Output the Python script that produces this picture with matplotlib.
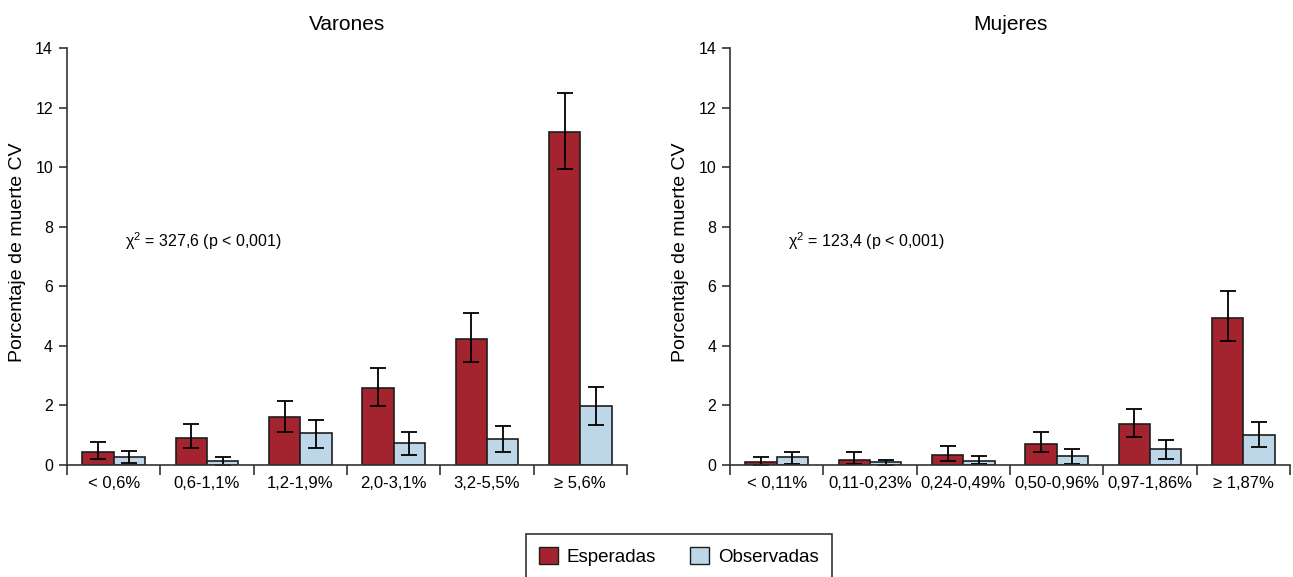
#!/usr/bin/env python
# -*- coding: utf-8 -*-
"""
Porcentaje de muerte CV esperada vs observada, por sexo
"""
# =========================================================================== #
#  SECTION: Imports
# =========================================================================== #
import matplotlib
matplotlib.use('Agg')
import matplotlib.pyplot as plt
import matplotlib.patches as mpatches
import numpy as np

# =========================================================================== #
#  SECTION: Data
# =========================================================================== #
varones_categorias = ['< 0,6%', '0,6-1,1%', '1,2-1,9%', '2,0-3,1%',
                      '3,2-5,5%', '≥ 5,6%']
varones_esperadas = [0.43, 0.92, 1.60, 2.60, 4.24, 11.17]
varones_esp_inf = [0.20, 0.56, 1.10, 1.97, 3.46, 9.93]
varones_esp_sup = [0.76, 1.39, 2.16, 3.27, 5.12, 12.48]
varones_observadas = [0.26, 0.13, 1.06, 0.73, 0.88, 1.99]
varones_obs_inf = [0.06, 0.01, 0.57, 0.35, 0.44, 1.33]
varones_obs_sup = [0.46, 0.27, 1.52, 1.11, 1.30, 2.63]
varones_chi = 'χ$^2$ = 327,6 (p < 0,001)'

mujeres_categorias = ['< 0,11%', '0,11-0,23%', '0,24-0,49%', '0,50-0,96%',
                      '0,97-1,86%', '≥ 1,87%']
mujeres_esperadas = [0.09, 0.18, 0.35, 0.70, 1.38, 4.94]
mujeres_esp_inf = [0.00, 0.03, 0.14, 0.43, 0.93, 4.15]
mujeres_esp_sup = [0.27, 0.44, 0.64, 1.10, 1.87, 5.83]
mujeres_observadas = [0.26, 0.09, 0.15, 0.29, 0.53, 1.00]
mujeres_obs_inf = [0.03, 0.01, 0.03, 0.05, 0.20, 0.61]
mujeres_obs_sup = [0.44, 0.17, 0.31, 0.54, 0.84, 1.44]
mujeres_chi = 'χ$^2$ = 123,4 (p < 0,001)'

# =========================================================================== #
#  SECTION: Global definitions
# =========================================================================== #
RED = '#a3232f'
BLUE = '#bdd6e8'
EDGE = '#1e1e1e'
BAR_W = 0.335

plt.rcParams['font.family'] = ['Liberation Sans', 'DejaVu Sans']
plt.rcParams['mathtext.fontset'] = 'custom'
plt.rcParams['mathtext.rm'] = 'Liberation Sans'
plt.rcParams['mathtext.it'] = 'Liberation Sans'
plt.rcParams['mathtext.default'] = 'regular'


# =========================================================================== #
#  SECTION: Function definitions
# =========================================================================== #
def plot_panel(ax, title, cats, esp, esp_inf, esp_sup,
               obs, obs_inf, obs_sup, chi):
    x = np.arange(len(cats)) + 0.5
    esp = np.array(esp)
    obs = np.array(obs)
    esp_err = [esp - np.array(esp_inf), np.array(esp_sup) - esp]
    obs_err = [obs - np.array(obs_inf), np.array(obs_sup) - obs]
    err_kw = dict(ecolor='black', elinewidth=1.3, capsize=5.5, capthick=1.3)

    ax.bar(x - BAR_W / 2, esp, BAR_W, color=RED, edgecolor=EDGE,
           linewidth=1.2, yerr=esp_err, error_kw=err_kw, zorder=2)
    ax.bar(x + BAR_W / 2, obs, BAR_W, color=BLUE, edgecolor=EDGE,
           linewidth=1.2, yerr=obs_err, error_kw=err_kw, zorder=2)

    ax.set_xlim(0, len(cats))
    ax.set_ylim(0, 14)
    ax.set_yticks(np.arange(0, 15, 2))
    ax.set_xticks(x)
    ax.set_xticklabels(cats, fontsize=12)
    ax.set_xticks(np.arange(len(cats) + 1), minor=True)
    ax.tick_params(axis='x', which='major', length=0, pad=8)
    ax.tick_params(axis='x', which='minor', length=7, width=1.2,
                   color='#333333')
    ax.tick_params(axis='y', length=6, width=1.2, color='#333333',
                   labelsize=11.5, pad=4)

    for side in ['top', 'right']:
        ax.spines[side].set_visible(False)
    for side in ['left', 'bottom']:
        ax.spines[side].set_linewidth(1.2)
        ax.spines[side].set_color('#333333')

    ax.set_ylabel('Porcentaje de muerte CV', fontsize=14)
    ax.yaxis.set_label_coords(-0.074, 0.51)
    ax.set_title(title, fontsize=15, pad=13)
    ax.text(0.62, 7.5, chi, fontsize=11.5, va='center', ha='left')


# =========================================================================== #
#  SECTION: Main Body
# =========================================================================== #
if __name__ == '__main__':
    fig = plt.figure(figsize=(12.93, 5.77), dpi=100)
    ax1 = fig.add_axes([0.0518, 0.1941, 0.4331, 0.7227])
    ax2 = fig.add_axes([0.5646, 0.1941, 0.4331, 0.7227])

    plot_panel(ax1, 'Varones', varones_categorias, varones_esperadas,
               varones_esp_inf, varones_esp_sup, varones_observadas,
               varones_obs_inf, varones_obs_sup, varones_chi)
    plot_panel(ax2, 'Mujeres', mujeres_categorias, mujeres_esperadas,
               mujeres_esp_inf, mujeres_esp_sup, mujeres_observadas,
               mujeres_obs_inf, mujeres_obs_sup, mujeres_chi)

    handles = [mpatches.Patch(facecolor=RED, edgecolor=EDGE, label='Esperadas'),
               mpatches.Patch(facecolor=BLUE, edgecolor=EDGE, label='Observadas')]
    leg = fig.legend(handles=handles, loc='upper center', ncol=2,
                     bbox_to_anchor=(0.525, 0.0745), fontsize=13.5,
                     frameon=True, fancybox=False, edgecolor='black',
                     handlelength=1.0, handleheight=1.0, columnspacing=1.8,
                     borderpad=0.7, handletextpad=0.5, borderaxespad=0)
    leg.get_frame().set_linewidth(1.2)

    fig.savefig('out.png', dpi=100)
